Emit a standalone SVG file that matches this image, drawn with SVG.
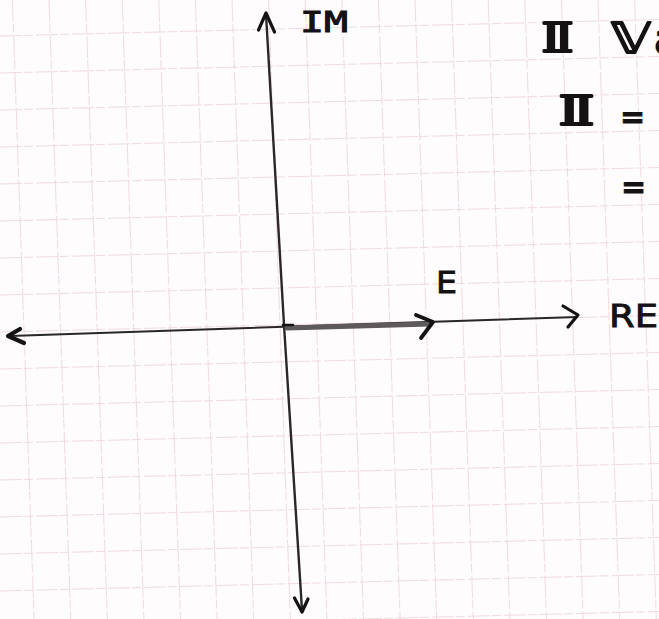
<svg xmlns="http://www.w3.org/2000/svg" width="659" height="619" viewBox="0 0 659 619">
<style>
.grid line{stroke:#efd3da;stroke-width:1;stroke-dasharray:22 2 9 3;opacity:0.8}
.axis{fill:none;stroke:#2a2728;stroke-width:2.4;stroke-linecap:round}
.head{fill:none;stroke:#141213;stroke-width:3.2;stroke-linecap:round;stroke-linejoin:round}
.vec{fill:none;stroke:#5e5a5b;stroke-width:5;stroke-linecap:round}
.lbl{font-family:"DejaVu Sans","Liberation Sans",sans-serif;fill:#141213;stroke:#141213;stroke-width:0.9}
.mono{font-family:"DejaVu Sans Mono",monospace;fill:#141213;stroke:#141213;stroke-width:1}
.ds{font-family:"DejaVu Sans","Noto Sans",sans-serif;fill:#141213;stroke:#141213;stroke-width:1.8;stroke-linejoin:round}
.eq{font-family:"DejaVu Sans",sans-serif;font-weight:bold;fill:#141213;stroke:#141213;stroke-width:0.8}
</style>
<rect width="659" height="619" fill="#fefcfd"/>
<g id="grid" class="grid">
<line x1="12.4" y1="0" x2="34.1" y2="619"/>
<line x1="49" y1="0" x2="70.7" y2="619"/>
<line x1="85.6" y1="0" x2="107.3" y2="619"/>
<line x1="122.2" y1="0" x2="143.9" y2="619"/>
<line x1="158.8" y1="0" x2="180.5" y2="619"/>
<line x1="195.4" y1="0" x2="217.1" y2="619"/>
<line x1="232" y1="0" x2="253.7" y2="619"/>
<line x1="268.6" y1="0" x2="290.3" y2="619"/>
<line x1="305.2" y1="0" x2="326.9" y2="619"/>
<line x1="341.8" y1="0" x2="363.5" y2="619"/>
<line x1="378.4" y1="0" x2="400.1" y2="619"/>
<line x1="415" y1="0" x2="436.7" y2="619"/>
<line x1="451.6" y1="0" x2="473.3" y2="619"/>
<line x1="488.2" y1="0" x2="509.9" y2="619"/>
<line x1="524.8" y1="0" x2="546.5" y2="619"/>
<line x1="561.4" y1="0" x2="583.1" y2="619"/>
<line x1="598" y1="0" x2="619.7" y2="619"/>
<line x1="634.6" y1="0" x2="656.3" y2="619"/>
<line x1="0" y1="36" x2="659" y2="19.5"/>
<line x1="0" y1="73" x2="659" y2="56.5"/>
<line x1="0" y1="110" x2="659" y2="93.5"/>
<line x1="0" y1="147" x2="659" y2="130.5"/>
<line x1="0" y1="184" x2="659" y2="167.5"/>
<line x1="0" y1="221" x2="659" y2="204.5"/>
<line x1="0" y1="258" x2="659" y2="241.5"/>
<line x1="0" y1="295" x2="659" y2="278.5"/>
<line x1="0" y1="332" x2="659" y2="315.5"/>
<line x1="0" y1="369" x2="659" y2="352.5"/>
<line x1="0" y1="406" x2="659" y2="389.5"/>
<line x1="0" y1="443" x2="659" y2="426.5"/>
<line x1="0" y1="480" x2="659" y2="463.5"/>
<line x1="0" y1="517" x2="659" y2="500.5"/>
<line x1="0" y1="554" x2="659" y2="537.5"/>
<line x1="0" y1="591" x2="659" y2="574.5"/>
<line x1="0" y1="628" x2="659" y2="611.5"/>
</g>
<g id="connectors">
<path id="im-axis" class="axis" d="M266,14 L284,325 L302,610"/>
<path class="head" d="M258.5,30 L266,13 L274.5,32"/>
<path class="head" d="M294.5,598 L302,612 L308,599"/>
<path id="re-axis" class="axis" d="M10,336 L577,317" style="stroke-width:2"/>
<path class="head" d="M20,329 L8,336 L24,343" style="stroke-width:4.2"/>
<path class="head" d="M563,306 L578,315 L568,327"/>
<path id="e-vector" class="vec" d="M287,328 L430,324"/>
<path class="head" d="M416,315 L433,322 L421,338" style="stroke-width:3.8"/>
<path class="head" d="M283,325 L293,325" style="stroke-width:2.4"/>
</g>
<g id="label-im"><text class="mono" x="300" y="32" font-size="29" textLength="48" lengthAdjust="spacingAndGlyphs">IM</text></g>
<g id="label-e"><text class="lbl" x="436" y="293" font-size="31" textLength="21" lengthAdjust="spacingAndGlyphs">E</text></g>
<g id="label-re"><text class="lbl" x="609" y="327" font-size="32" textLength="49" lengthAdjust="spacingAndGlyphs">RE</text></g>
<g id="notes">
<text class="ds" x="540" y="52" font-size="40" textLength="35" lengthAdjust="spacingAndGlyphs">𝕀</text>
<text class="ds" x="611" y="53" font-size="42" textLength="40" lengthAdjust="spacingAndGlyphs">𝕍</text>
<text class="ds" x="654" y="53" font-size="40">a</text>
<text class="ds" x="557" y="125" font-size="40" textLength="39" lengthAdjust="spacingAndGlyphs">𝕀</text>
<text class="eq" x="620" y="127" font-size="30">=</text>
<text class="eq" x="621" y="197" font-size="30">=</text>
</g>
</svg>
